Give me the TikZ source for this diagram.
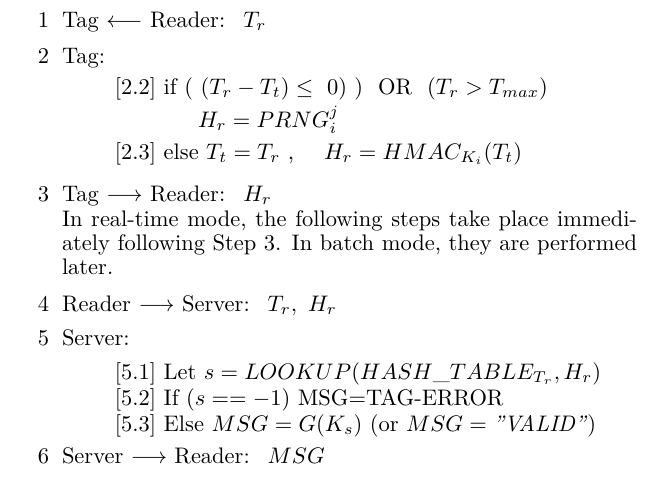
\documentclass[tikz,border=0pt]{standalone}
\usetikzlibrary{positioning}
\begin{document}
\begin{tikzpicture}[x=0.445pt,y=-0.445pt,
  txt/.style={anchor=base west,inner sep=0pt,outer sep=0pt,font=\normalsize},
  num/.style={anchor=base west,inner sep=0pt,outer sep=0pt}]
\useasboundingbox[fill=white] (0,0) rectangle (660,481);
\node[num] (n1) at (38,27) {1};
\node[txt] (l1) at (62,27) {Tag $\longleftarrow$ Reader:\hskip 8pt$T_r$};
\node[num] (n2) at (38,63) {2};
\node[txt] (l2) at (62,63) {Tag:};
\node[txt] (l22) at (115,94) {[2.2] if ( $(T_r - T_t) \leq\ 0)$ ) \ OR \ $(T_r > T_{max})$};
\node[txt] (l22b) at (198,127) {$H_r = PRNG_i^j$};
\node[txt] (l23) at (115,159) {[2.3] else $T_t = T_r$ , \quad $H_r = HMAC_{K_i}(T_t)$};
\node[num] (n3) at (38,201) {3};
\node[txt] (l3) at (62,201) {Tag $\longrightarrow$ Reader:\hskip 8pt$H_r$};
\node[txt] (p1) at (62,226) {\makebox[255.9pt][s]{In real-time mode, the following steps take place immedi-}};
\node[txt] (p2) at (62,250) {\makebox[255.9pt][s]{ately following Step 3. In batch mode, they are performed}};
\node[txt] (p3) at (62,274) {later.};
\node[num] (n4) at (38,311) {4};
\node[txt] (l4) at (62,311) {Reader $\longrightarrow$ Server:\hskip 8pt$T_r,\ H_r$};
\node[num] (n5) at (38,345) {5};
\node[txt] (l5) at (62,345) {Server:};
\node[txt] (l51) at (115,379) {[5.1] Let $s = LOOKUP(HASH\_TABLE_{T_r}, H_r)$};
\node[txt] (l52) at (115,405) {[5.2] If $(s == -1)$ MSG=TAG-ERROR};
\node[txt] (l53) at (115,431) {[5.3] Else $MSG = G(K_s)$ (or $MSG = {}$\textit{''VALID''})};
\node[num] (n6) at (38,463) {6};
\node[txt] (l6) at (62,463) {Server $\longrightarrow$ Reader:\hskip 8pt$MSG$};
\end{tikzpicture}
\end{document}
